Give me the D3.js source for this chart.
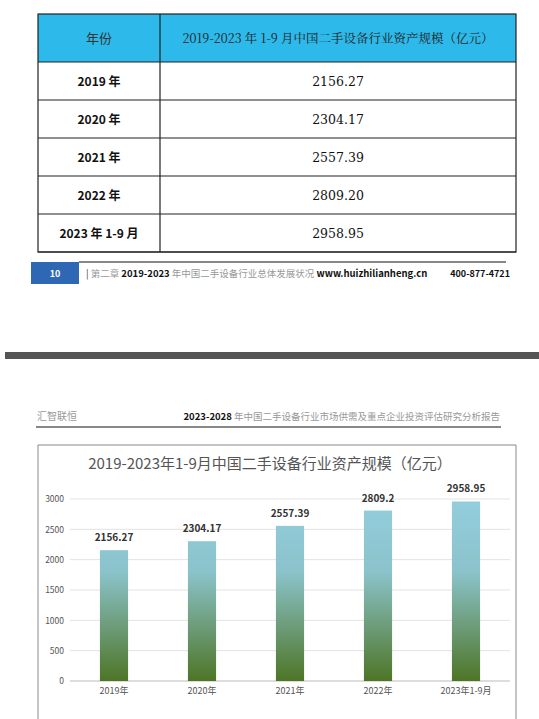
<!DOCTYPE html>
<html><head><meta charset="utf-8">
<script src="https://cdn.jsdelivr.net/npm/d3@7"></script>
<style>body{margin:0;background:#fff;font-family:"Noto Sans CJK SC","Noto Sans",sans-serif}</style>
</head><body>
<svg id="c" width="539" height="719"></svg>
<script>
const years = ['2019 年', '2020 年', '2021 年', '2022 年', '2023 年 1-9 月'];
const tableValues = ['2156.27', '2304.17', '2557.39', '2809.20', '2958.95'];
const categories = ['2019年', '2020年', '2021年', '2022年', '2023年1-9月'];
const values = [2156.27, 2304.17, 2557.39, 2809.2, 2958.95];
const yTicks = [0, 500, 1000, 1500, 2000, 2500, 3000];

const svg = d3.select('#c');
const font = '"Noto Sans CJK SC", sans-serif';

// table
const tx0 = 38, tx1 = 516, tcol = 160, hTop = 14, hH = 48, rH = 38;
svg.append('rect').attr('x', tx0).attr('y', hTop).attr('width', tx1 - tx0).attr('height', hH).attr('fill', '#2DB9E9');
svg.append('text').attr('x', (tx0 + tcol) / 2).attr('y', hTop + hH / 2 + 5).attr('text-anchor', 'middle')
    .attr('font-size', 13).attr('fill', '#333').text('年份');
svg.append('text').attr('x', (tcol + tx1) / 2).attr('y', hTop + hH / 2 + 5).attr('text-anchor', 'middle')
    .attr('font-size', 12.5).attr('fill', '#222').attr('font-family', '"Noto Serif CJK SC", serif')
    .text('2019-2023 年 1-9 月中国二手设备行业资产规模（亿元）');
years.forEach((y, i) => {
    const top = hTop + hH + i * rH;
    svg.append('text').attr('x', (tx0 + tcol) / 2).attr('y', top + rH / 2 + 5).attr('text-anchor', 'middle')
        .attr('font-size', 12).attr('font-weight', 'bold').attr('fill', '#111').text(y);
    svg.append('text').attr('x', (tcol + tx1) / 2).attr('y', top + rH / 2 + 5).attr('text-anchor', 'middle')
        .attr('font-size', 12.5).attr('fill', '#111').attr('font-family', 'DejaVu Serif, serif').text(tableValues[i]);
});
const tBottom = hTop + hH + years.length * rH;
const tg = svg.append('g').attr('stroke', '#222').attr('stroke-width', 1.2).attr('fill', 'none');
tg.append('rect').attr('x', tx0).attr('y', hTop).attr('width', tx1 - tx0).attr('height', tBottom - hTop);
tg.append('line').attr('x1', tcol).attr('x2', tcol).attr('y1', hTop).attr('y2', tBottom);
for (let i = 0; i <= years.length; i++)
    tg.append('line').attr('x1', tx0).attr('x2', tx1).attr('y1', hTop + hH + i * rH).attr('y2', hTop + hH + i * rH);

// footer
svg.append('rect').attr('x', 31).attr('y', 262).attr('width', 48).attr('height', 22).attr('fill', '#2E68B5');
svg.append('text').attr('x', 55).attr('y', 277).attr('text-anchor', 'middle').attr('font-size', 9)
    .attr('font-weight', 'bold').attr('fill', '#fff').text('10');
svg.append('line').attr('x1', 79).attr('x2', 506).attr('y1', 262).attr('y2', 262).attr('stroke', '#111');
const ft = svg.append('text').attr('x', 86).attr('y', 277).attr('font-size', 9.5).attr('fill', '#999');
ft.append('tspan').attr('fill', '#333').text('| ');
ft.append('tspan').text('第二章 ');
ft.append('tspan').attr('fill', '#111').attr('font-weight', 'bold').text('2019-2023 ');
ft.append('tspan').text('年中国二手设备行业总体发展状况 ');
ft.append('tspan').attr('fill', '#111').attr('font-weight', 'bold').text('www.huizhilianheng.cn');
svg.append('text').attr('x', 510).attr('y', 277).attr('text-anchor', 'end').attr('font-size', 9)
    .attr('font-weight', 'bold').attr('fill', '#111').text('400-877-4721');

// page separator
svg.append('rect').attr('x', 5).attr('y', 352).attr('width', 534).attr('height', 7).attr('fill', '#555');

// page header
svg.append('text').attr('x', 37).attr('y', 420).attr('font-size', 10).attr('fill', '#999').text('汇智联恒');
const ht = svg.append('text').attr('x', 500).attr('y', 420).attr('text-anchor', 'end').attr('font-size', 9.5).attr('fill', '#999');
ht.append('tspan').attr('fill', '#111').attr('font-weight', 'bold').text('2023-2028 ');
ht.append('tspan').text('年中国二手设备行业市场供需及重点企业投资评估研究分析报告');
svg.append('line').attr('x1', 36).attr('x2', 501).attr('y1', 427).attr('y2', 427).attr('stroke', '#111');

// chart box
svg.append('path').attr('d', 'M38,719V445H516V719').attr('fill', 'none').attr('stroke', '#888');
svg.append('text').attr('x', 270).attr('y', 469).attr('text-anchor', 'middle').attr('font-size', 15)
    .attr('fill', '#555').text('2019-2023年1-9月中国二手设备行业资产规模（亿元）');

const x = d3.scaleBand().domain(categories).range([70, 510]).paddingInner(0.68).paddingOuter(0.34);
const y = d3.scaleLinear().domain([0, 3000]).range([681, 499]);

svg.append('g').selectAll('line').data(yTicks).join('line')
    .attr('x1', 70).attr('x2', 510).attr('y1', d => y(d)).attr('y2', d => y(d))
    .attr('stroke', d => d === 0 ? '#bbb' : '#e3e3e3');
const ya = svg.append('g').attr('transform', 'translate(70,0)')
    .call(d3.axisLeft(y).tickValues(yTicks).tickFormat(d3.format('d')).tickSize(0).tickPadding(6));
ya.select('.domain').remove();
ya.selectAll('text').attr('font-size', 8.5).attr('fill', '#555').attr('font-family', font);
const xa = svg.append('g').attr('transform', 'translate(0,681)')
    .call(d3.axisBottom(x).tickSize(0).tickPadding(7));
xa.select('.domain').remove();
xa.selectAll('text').attr('font-size', 9).attr('fill', '#555').attr('font-family', font);

const grad = svg.append('defs').append('linearGradient').attr('id', 'g')
    .attr('gradientUnits', 'userSpaceOnUse').attr('x1', 0).attr('x2', 0).attr('y1', y(3000)).attr('y2', y(0));
grad.append('stop').attr('offset', '0%').attr('stop-color', '#93CEDD');
grad.append('stop').attr('offset', '40%').attr('stop-color', '#8BC3CB');
grad.append('stop').attr('offset', '100%').attr('stop-color', '#4E7526');

svg.append('g').selectAll('rect').data(values).join('rect')
    .attr('x', (d, i) => x(categories[i])).attr('width', x.bandwidth())
    .attr('y', d => y(d)).attr('height', d => y(0) - y(d)).attr('fill', 'url(#g)');
svg.append('g').selectAll('text').data(values).join('text')
    .attr('x', (d, i) => x(categories[i]) + x.bandwidth() / 2).attr('y', d => y(d) - 9)
    .attr('text-anchor', 'middle').attr('font-size', 10).attr('font-weight', 'bold').attr('fill', '#333')
    .text(d => d);
</script>
</body></html>
